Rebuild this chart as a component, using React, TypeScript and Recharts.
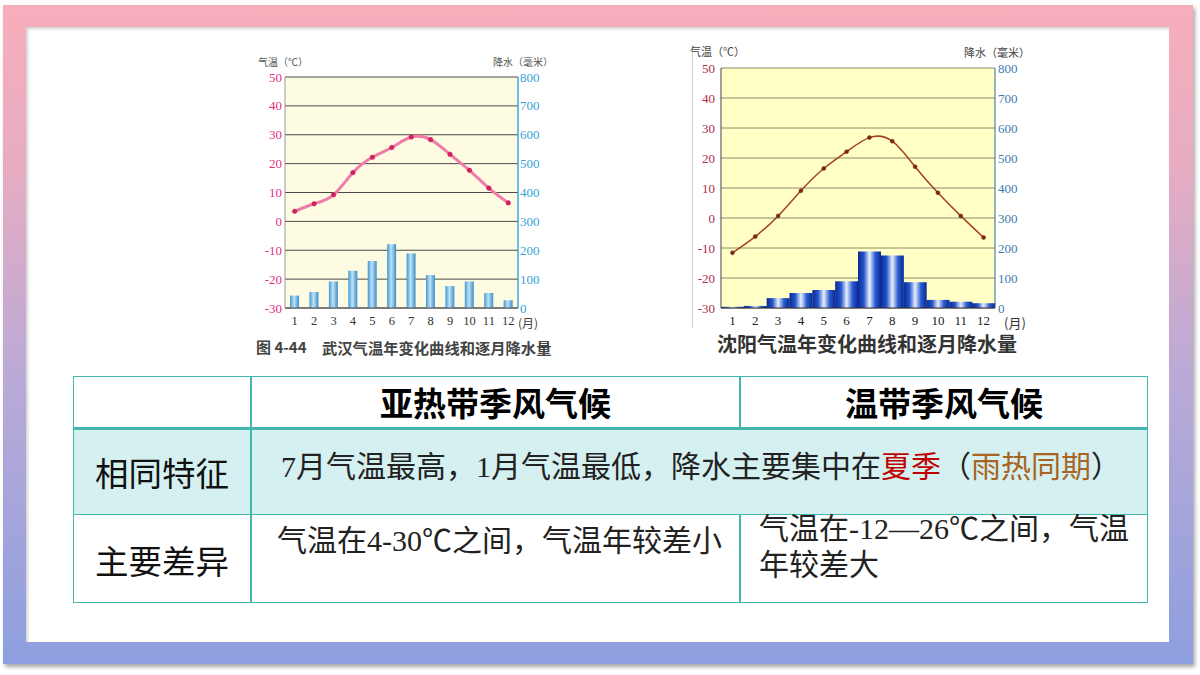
import React from 'react';
import { ComposedChart, Bar, Line, XAxis, YAxis, CartesianGrid } from 'recharts';

const months = ['1', '2', '3', '4', '5', '6', '7', '8', '9', '10', '11', '12'];
const wuhanTemp = [3.5, 6.1, 9.2, 16.9, 22.2, 25.6, 29.2, 28.3, 23.2, 17.7, 11.5, 6.4];
const wuhanRain = [43, 55, 92, 129, 163, 221, 189, 114, 76, 92, 52, 27];
const shenyangTemp = [-11.6, -6.2, 0.7, 9.1, 16.5, 22.1, 26.8, 25.6, 17.1, 8.4, 0.7, -6.5];
const shenyangRain = [4, 7, 33, 50, 60, 89, 188, 175, 86, 27, 21, 16];
const tempTicks = [-30, -20, -10, 0, 10, 20, 30, 40, 50];
const rainTicks = [0, 100, 200, 300, 400, 500, 600, 700, 800];

const wuhanData = months.map((m, i) => ({ month: m, temp: wuhanTemp[i], rain: wuhanRain[i] }));
const shenyangData = months.map((m, i) => ({ month: m, temp: shenyangTemp[i], rain: shenyangRain[i] }));

const serif = '"Liberation Serif", "DejaVu Serif", serif';
const cjk = '"Noto Sans CJK SC", "Noto Sans", sans-serif';
const bodyFont = '"Liberation Serif", "Noto Sans CJK SC", serif';

const abs = (l: number, t: number, extra: React.CSSProperties = {}): React.CSSProperties => ({
  position: 'absolute',
  left: l,
  top: t,
  ...extra,
});

function WuhanChart() {
  return (
    <div style={abs(252, 55)}>
      <ComposedChart width={300} height={278} data={wuhanData} margin={{ top: 22, right: 0, left: 0, bottom: 0 }} barCategoryGap="26%">
        <defs>
          <linearGradient id="whBar" x1="0" y1="0" x2="1" y2="0">
            <stop offset="0%" stopColor="#3f97d2" />
            <stop offset="45%" stopColor="#bfe3f7" />
            <stop offset="100%" stopColor="#3a8dcc" />
          </linearGradient>
        </defs>
        <CartesianGrid yAxisId="left" vertical={false} fill="#fdfbe2" stroke="#4a4a4a" strokeWidth={1} />
        <XAxis dataKey="month" tickLine={false} axisLine={{ stroke: '#555' }} height={25} tick={{ fill: '#333', fontSize: 12.5, fontFamily: serif }} interval={0} />
        <YAxis yAxisId="left" orientation="left" domain={[-30, 50]} ticks={tempTicks} width={33} tickLine={false} tickSize={0} tickMargin={3} axisLine={{ stroke: '#999' }} tick={{ fill: '#e0307f', fontSize: 13, fontFamily: serif }} />
        <YAxis yAxisId="right" orientation="right" domain={[0, 800]} ticks={rainTicks} width={34} tickLine={false} tickSize={0} tickMargin={2} axisLine={{ stroke: '#3aa8d8', strokeWidth: 1.5 }} tick={{ fill: '#33a6d6', fontSize: 13, fontFamily: serif }} />
        <Bar yAxisId="right" dataKey="rain" fill="url(#whBar)" isAnimationActive={false} />
        <Line yAxisId="left" type="natural" dataKey="temp" stroke="#f07ca9" strokeWidth={3} dot={{ r: 2.3, fill: '#d0205f', stroke: '#d0205f', strokeWidth: 0.5 }} isAnimationActive={false} />
      </ComposedChart>
    </div>
  );
}

function ShenyangChart() {
  return (
    <div style={abs(690, 45)}>
      <ComposedChart width={337} height={288} data={shenyangData} margin={{ top: 23, right: 0, left: 0, bottom: 0 }} barCategoryGap={0}>
        <defs>
          <linearGradient id="syBar" x1="0" y1="0" x2="1" y2="0">
            <stop offset="0%" stopColor="#0a2a96" />
            <stop offset="25%" stopColor="#2554c8" />
            <stop offset="50%" stopColor="#e6f0ff" />
            <stop offset="75%" stopColor="#2a5cd0" />
            <stop offset="100%" stopColor="#0a2892" />
          </linearGradient>
        </defs>
        <CartesianGrid yAxisId="left" vertical={false} fill="#ffffc6" stroke="#8a8a6a" strokeWidth={1} />
        <XAxis dataKey="month" tickLine={false} axisLine={{ stroke: '#333' }} height={25} tick={{ fill: '#222', fontSize: 13, fontFamily: serif }} interval={0} />
        <YAxis yAxisId="left" orientation="left" domain={[-30, 50]} ticks={tempTicks} width={31} tickLine={false} tickSize={0} tickMargin={6} axisLine={{ stroke: '#444' }} tick={{ fill: '#b02c48', fontSize: 13, fontFamily: serif }} />
        <YAxis yAxisId="right" orientation="right" domain={[0, 800]} ticks={rainTicks} width={32} tickLine={false} tickSize={0} tickMargin={3} axisLine={{ stroke: '#336699' }} tick={{ fill: '#3a7eae', fontSize: 13, fontFamily: serif }} />
        <Bar yAxisId="right" dataKey="rain" fill="url(#syBar)" isAnimationActive={false} />
        <Line yAxisId="left" type="natural" dataKey="temp" stroke="#a3421f" strokeWidth={1.5} dot={{ r: 2, fill: '#7a2a10', stroke: '#7a2a10', strokeWidth: 0.5 }} isAnimationActive={false} />
      </ComposedChart>
    </div>
  );
}

const teal = '#44b6ad';

export default function App() {
  const txt: React.CSSProperties = { fontFamily: bodyFont, fontSize: 30, color: '#222', whiteSpace: 'nowrap', lineHeight: '34px' };
  return (
    <div style={{ position: 'absolute', left: 0, top: 0, width: 1200, height: 675, background: '#fff', overflow: 'hidden' }}>
      {/* frame */}
      <div style={abs(3, 5, { width: 1190, height: 659, background: 'linear-gradient(to bottom, #f8aebb 0%, #e6acc2 25%, #bcaad6 55%, #8d9fdf 100%)', boxShadow: '2px 3px 4px rgba(0,0,0,0.35)' })} />
      <div style={abs(26, 27, { width: 1143, height: 615, background: '#fff', boxShadow: 'inset 2px 2px 3px rgba(0,0,0,0.18)' })} />

      {/* Wuhan chart */}
      <WuhanChart />
      <div style={abs(258, 56, { fontSize: 10, lineHeight: '12px', color: '#555', fontFamily: cjk, whiteSpace: 'nowrap' })}>气温（℃）</div>
      <div style={abs(493, 56, { fontSize: 10, lineHeight: '12px', color: '#555', fontFamily: cjk, whiteSpace: 'nowrap' })}>降水（毫米）</div>
      <div style={abs(518, 314, { fontSize: 12, color: '#444', fontFamily: cjk, whiteSpace: 'nowrap' })}>(月)</div>
      <div style={abs(256, 336, { fontSize: 15, color: '#444', fontFamily: cjk, fontWeight: 700, whiteSpace: 'nowrap' })}>图 4-44</div>
      <div style={abs(322, 336, { fontSize: 15.3, color: '#444', fontFamily: cjk, fontWeight: 700, whiteSpace: 'nowrap' })}>武汉气温年变化曲线和逐月降水量</div>

      {/* Shenyang chart */}
      <div style={abs(692, 45, { width: 1, height: 283, background: '#cfcfcf' })} />
      <ShenyangChart />
      <div style={abs(690, 45, { fontSize: 11, lineHeight: '13px', color: '#444', fontFamily: cjk, whiteSpace: 'nowrap' })}>气温（℃）</div>
      <div style={abs(964, 46, { fontSize: 11, lineHeight: '13px', color: '#444', fontFamily: cjk, whiteSpace: 'nowrap' })}>降水（毫米）</div>
      <div style={abs(1004, 313, { fontSize: 13, color: '#333', fontFamily: cjk, whiteSpace: 'nowrap' })}>(月)</div>
      <div style={abs(717, 329, { fontSize: 20, color: '#333', fontFamily: cjk, fontWeight: 700, whiteSpace: 'nowrap' })}>沈阳气温年变化曲线和逐月降水量</div>

      {/* table */}
      <div style={abs(73, 376, { width: 1075, height: 227, boxSizing: 'border-box', border: `1.5px solid ${teal}` })} />
      <div style={abs(73, 427, { width: 1075, height: 88, background: '#d5f0f0', boxSizing: 'border-box', borderTop: `3px solid ${teal}`, borderBottom: `1.5px solid ${teal}`, borderLeft: `1.5px solid ${teal}`, borderRight: `1.5px solid ${teal}` })} />
      <div style={abs(250, 376, { width: 1.5, height: 227, background: teal })} />
      <div style={abs(739, 376, { width: 1.5, height: 52, background: teal })} />
      <div style={abs(739, 515, { width: 1.5, height: 88, background: teal })} />

      <div style={abs(251, 376, { width: 489, height: 51, display: 'flex', alignItems: 'center', justifyContent: 'center', fontFamily: cjk, fontWeight: 700, fontSize: 33, color: '#000' })}>亚热带季风气候</div>
      <div style={abs(740, 376, { width: 408, height: 51, display: 'flex', alignItems: 'center', justifyContent: 'center', fontFamily: cjk, fontWeight: 700, fontSize: 33, color: '#000' })}>温带季风气候</div>
      <div style={abs(73, 428, { width: 178, height: 86, display: 'flex', alignItems: 'center', justifyContent: 'center', fontFamily: cjk, fontSize: 33.5, color: '#111' })}>相同特征</div>
      <div style={abs(73, 515, { width: 178, height: 88, display: 'flex', alignItems: 'center', justifyContent: 'center', fontFamily: cjk, fontSize: 33.5, color: '#111' })}>主要差异</div>

      <div style={abs(281, 450, txt)}>
        7月气温最高，1月气温最低，降水主要集中在<span style={{ color: '#c00000' }}>夏季</span>（<span style={{ color: '#a8651f' }}>雨热同期</span>）
      </div>
      <div style={abs(277, 524, txt)}>气温在4-30℃之间，气温年较差小</div>
      <div style={abs(759, 512, txt)}>气温在-12—26℃之间，气温</div>
      <div style={abs(759, 548, txt)}>年较差大</div>
    </div>
  );
}
